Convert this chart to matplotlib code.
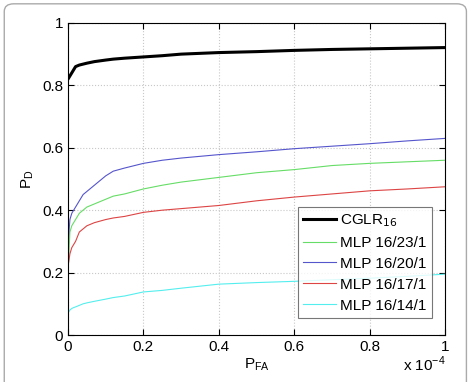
import matplotlib.pyplot as plt
from matplotlib.patches import FancyBboxPatch

plt.rcParams['font.family'] = ['Liberation Sans', 'DejaVu Sans']

# P_FA in units of 1e-4
pfa = [0, 0.0, 0.005, 0.01, 0.015, 0.02, 0.03, 0.04, 0.05, 0.07, 0.1, 0.12, 0.15, 0.2,
       0.25, 0.3, 0.4, 0.5, 0.6, 0.7, 0.8, 0.9, 1.0]

cglr = [0.82, 0.82, 0.83, 0.84, 0.85, 0.86, 0.865, 0.868, 0.871, 0.876, 0.881, 0.884, 0.887, 0.891,
        0.895, 0.9, 0.905, 0.908, 0.912, 0.915, 0.917, 0.919, 0.921]
mlp23 = [0.0, 0.20, 0.33, 0.35, 0.36, 0.37, 0.39, 0.40, 0.41, 0.42, 0.435, 0.445, 0.452, 0.468,
         0.48, 0.49, 0.505, 0.52, 0.53, 0.543, 0.55, 0.555, 0.56]
mlp20 = [0.0, 0.29, 0.37, 0.39, 0.40, 0.41, 0.43, 0.45, 0.46, 0.48, 0.51, 0.525, 0.535, 0.55,
         0.56, 0.567, 0.578, 0.587, 0.597, 0.605, 0.613, 0.622, 0.63]
mlp17 = [0.0, 0.22, 0.26, 0.28, 0.29, 0.30, 0.33, 0.34, 0.35, 0.36, 0.37, 0.375, 0.38, 0.393,
         0.40, 0.405, 0.415, 0.43, 0.442, 0.452, 0.462, 0.468, 0.475]
mlp14 = [0.0, 0.07, 0.08, 0.085, 0.088, 0.09, 0.095, 0.10, 0.103, 0.108, 0.115, 0.12, 0.125, 0.138,
         0.143, 0.15, 0.163, 0.168, 0.172, 0.177, 0.182, 0.188, 0.195]

fig = plt.figure(figsize=(4.74, 3.82), dpi=100)
fig.patches.append(FancyBboxPatch((0.009, -0.05), 0.975, 1.04, boxstyle='round,pad=0,rounding_size=0.02',
                                  transform=fig.transFigure, fc='none', ec='#aaaaaa', lw=1))
ax = fig.add_axes([0.1435, 0.123, 0.7955, 0.817])

ax.plot(pfa, cglr, color='black', lw=2.2, label='CGLR$_{16}$')
ax.plot(pfa, mlp23, color='#66dd66', lw=0.8, label='MLP 16/23/1')
ax.plot(pfa, mlp20, color='#5555cc', lw=0.8, label='MLP 16/20/1')
ax.plot(pfa, mlp17, color='#dd4444', lw=0.8, label='MLP 16/17/1')
ax.plot(pfa, mlp14, color='#55eeee', lw=0.8, label='MLP 16/14/1')

ax.set_xlim(0, 1)
ax.set_ylim(0, 1)
ax.set_xticks([0, 0.2, 0.4, 0.6, 0.8, 1])
ax.set_xticklabels(['0', '0.2', '0.4', '0.6', '0.8', '1'])
ax.set_yticks([0, 0.2, 0.4, 0.6, 0.8, 1])
ax.set_yticklabels(['0', '0.2', '0.4', '0.6', '0.8', '1'])
ax.tick_params(direction='in', top=True, right=True, labelsize=11, length=4)
ax.grid(True, linestyle=':', color='#c8c8c8', lw=0.8)

ax.set_xlabel('P$_{\\mathregular{FA}}$', fontsize=11, labelpad=2)
ax.set_ylabel('P$_{\\mathregular{D}}$', fontsize=11, labelpad=4)
fig.text(0.94, 0.02, 'x 10$^{\\mathregular{-4}}$', ha='right', va='bottom', fontsize=11)

leg = ax.legend(loc='lower right', bbox_to_anchor=(0.965, 0.055), fontsize=11, fancybox=False,
                edgecolor='#555555', handlelength=2.1, borderpad=0.35, labelspacing=0.45,
                handletextpad=0.3, borderaxespad=0)
leg.get_frame().set_linewidth(0.8)

fig.savefig('out.png', dpi=100)
